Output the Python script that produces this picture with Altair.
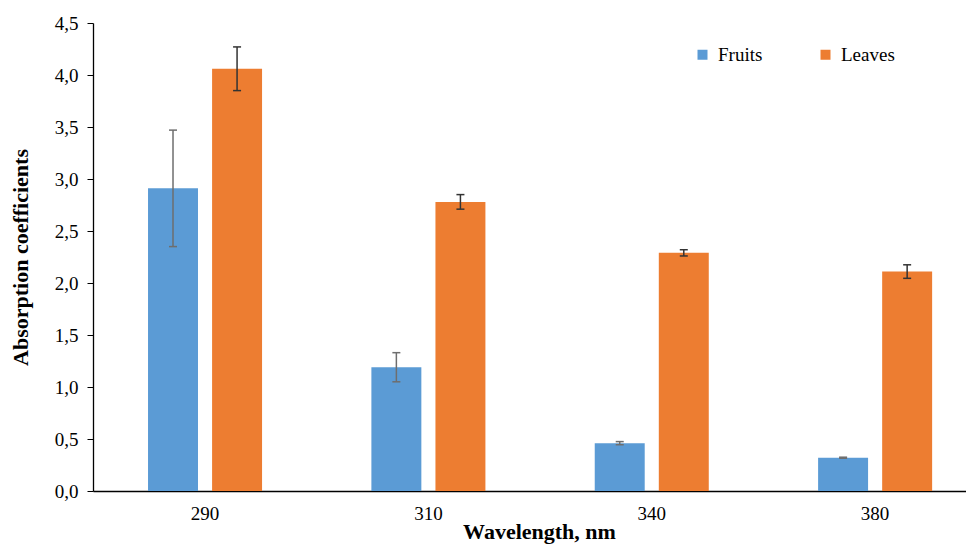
import altair as alt
import pandas as pd

wavelengths = ["290", "310", "340", "380"]
series = ["Fruits", "Leaves"]
fruits = [2.91, 1.19, 0.46, 0.32]
fruits_err = [0.56, 0.14, 0.015, 0.005]
leaves = [4.06, 2.78, 2.29, 2.11]
leaves_err = [0.21, 0.07, 0.03, 0.065]

bar_colors = ["#5B9BD5", "#ED7D31"]
err_colors = ["#6E6E6E", "#333333"]
y_ticks = [0, 0.5, 1, 1.5, 2, 2.5, 3, 3.5, 4, 4.5]

rows = []
for i, w in enumerate(wavelengths):
    for s, vals, errs, ec in [("Fruits", fruits, fruits_err, err_colors[0]),
                              ("Leaves", leaves, leaves_err, err_colors[1])]:
        rows.append({"wavelength": w, "series": s, "value": vals[i],
                     "lo": vals[i] - errs[i], "hi": vals[i] + errs[i], "ecol": ec})
df = pd.DataFrame(rows)

FONT = "Liberation Serif"
W, H = 873, 468

x = alt.X("wavelength:N", sort=wavelengths,
          scale=alt.Scale(paddingInner=0.4895, paddingOuter=0.199, align=0.619),
          axis=alt.Axis(title="Wavelength, nm", labelAngle=0, ticks=False, tickSize=0,
                        labelPadding=13, labelFontSize=19, labelColor="#000000",
                        titleFontSize=22, titleFontWeight="bold", titleColor="#000000",
                        titlePadding=-2, titleX=446, domainColor="#000000", domainWidth=1.3))
xo = alt.XOffset("series:N", sort=series, scale=alt.Scale(paddingInner=0.22, paddingOuter=0))
yscale = alt.Scale(domain=[0, 4.5], nice=False, zero=True)

bars = alt.Chart(df).mark_bar(opacity=1).encode(
    x=x, xOffset=xo,
    y=alt.Y("value:Q", scale=yscale,
            axis=alt.Axis(title="Absorption coefficients", values=y_ticks,
                          labelExpr="replace(format(datum.value, '.1f'), '.', ',')",
                          grid=False, tickSize=6, tickColor="#000000", tickWidth=1,
                          labelPadding=9, labelFontSize=19, labelColor="#000000",
                          titleFontSize=22, titleFontWeight="bold", titleColor="#000000",
                          titlePadding=22, domainColor="#000000", domainWidth=1.3)),
    color=alt.Color("series:N", sort=series,
                    scale=alt.Scale(domain=series, range=bar_colors),
                    legend=alt.Legend(title=None, orient="none", legendX=600, legendY=22,
                                      direction="horizontal", symbolType="square",
                                      symbolSize=100, symbolStrokeWidth=0,
                                      symbolOpacity=1,
                                      labelFontSize=19, labelColor="#000000",
                                      labelOffset=6, columnPadding=53)),
)

rules = alt.Chart(df).mark_rule(strokeWidth=1.5).encode(
    x=x, xOffset=xo,
    y=alt.Y("lo:Q", scale=yscale), y2="hi:Q",
    color=alt.Color("ecol:N", scale=None),
)

caps_hi = alt.Chart(df).mark_tick(size=8, thickness=1.5, opacity=1).encode(
    x=x, xOffset=xo, y=alt.Y("hi:Q", scale=yscale),
    color=alt.Color("ecol:N", scale=None),
)
caps_lo = alt.Chart(df).mark_tick(size=8, thickness=1.5, opacity=1).encode(
    x=x, xOffset=xo, y=alt.Y("lo:Q", scale=yscale),
    color=alt.Color("ecol:N", scale=None),
)

chart = alt.layer(bars, rules, caps_hi, caps_lo).properties(
    width=W, height=H,
    autosize=alt.AutoSizeParams(type="none"),
    padding={"left": 85, "top": 15, "right": 0, "bottom": 56},
).configure(font=FONT).configure_view(stroke=None).configure_axis(
    labelFont=FONT, titleFont=FONT
).configure_legend(labelFont=FONT)

chart.save("out.html", embed_options={"renderer": "svg", "actions": False})
